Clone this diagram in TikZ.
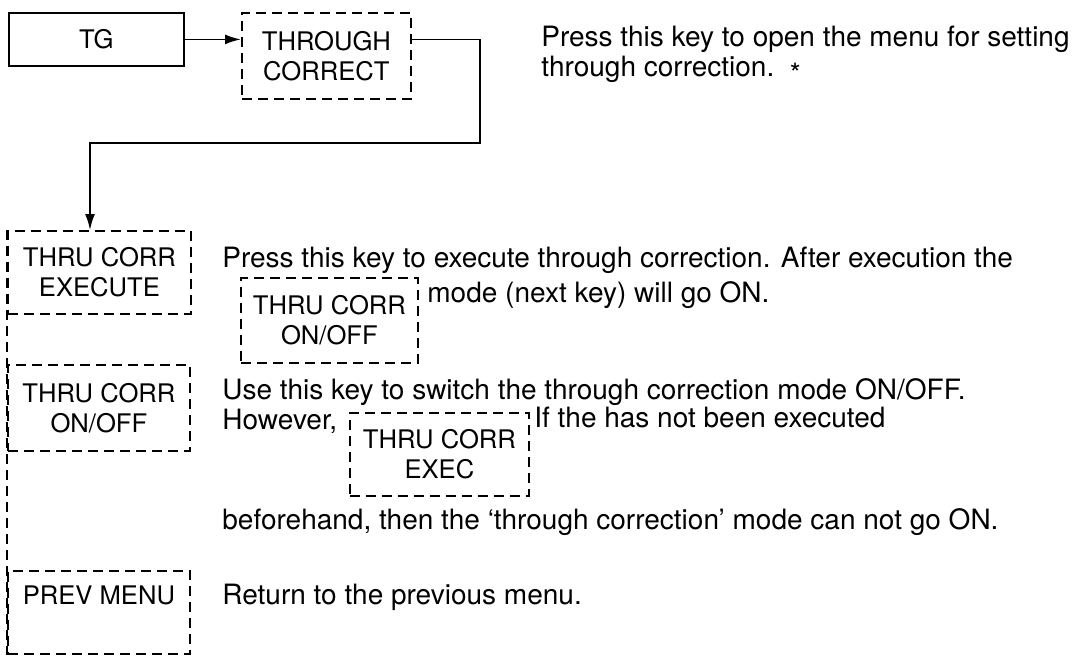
\documentclass[tikz,border=0pt]{standalone}
\usepackage{fontspec}
\setmainfont{TeX Gyre Heros}
\usepackage{tikz}
\usetikzlibrary{arrows.meta,calc,positioning}
\newcommand{\descfont}{\fontsize{14pt}{15pt}\selectfont}
\newcommand{\keyfont}{\fontsize{12.8pt}{15pt}\selectfont}
\tikzset{
  keybox/.style={draw, dash pattern=on 5pt off 3pt, line width=0.9pt, align=center,
    inner sep=0pt, font=\keyfont, anchor=north west},
  solidbox/.style={draw, line width=0.9pt, align=center, inner sep=0pt,
    font=\keyfont, anchor=north west},
  desc/.style={anchor=base west, inner sep=0pt, font=\descfont},
  link/.style={line width=0.9pt, -{Latex[length=8pt,width=5pt]}}
}

\begin{document}
\begin{tikzpicture}[x=0.5pt, y=-0.5pt]
            \useasboundingbox (0,0) rectangle (1090,655);
            % Draw the key boxes
            \node[solidbox, minimum width=87.5pt, minimum height=26.5pt] (tg) at (8,12) {TG};
            \node[keybox, minimum width=84.5pt, minimum height=43pt] (through) at (241,12) {THROUGH\\CORRECT};
            \node[keybox, minimum width=91.5pt, minimum height=41.5pt] (exec) at (7,230) {THRU CORR\\EXECUTE};
            \node[keybox, minimum width=91pt, minimum height=43pt] (onoff) at (7,364) {THRU CORR\\ON/OFF};
            \node[keybox, minimum width=91pt, text height=17pt, text depth=24.5pt] (prev) at (7,570) {PREV MENU};
            % Draw the left dashed rail
            \draw[line width=0.9pt, dash pattern=on 5pt off 3pt] (exec.north west) -- (prev.south west);
            % Define bends
            \coordinate (bendR) at (480,143);
            \coordinate (bendL) at (90,143);
            % Draw the connectors
            \draw[link] (tg.east) -- (tg.east -| through.west);
            \draw[link] (tg.east -| through.east) -| (bendR) -- (bendL) -- (bendL |- exec.north);
            % Label the keys
            \node[desc, anchor=north west, align=left, font=\fontsize{14pt}{14.8pt}\selectfont] (txtA) at (541,26)
              {Press this key to open the menu for setting\\through correction.\ \ \raisebox{-0.45ex}{*}};
            \node[desc] (txtB1) at (222,267) {Press this key to execute through correction. After execution the};
            \node[keybox, minimum width=88.5pt, minimum height=42.5pt] (onoffref) at (240,277) {THRU CORR\\ON/OFF};
            \node[desc] (txtB2) at (427,302) {mode (next key) will go ON.};
            \node[desc] (txtC1) at (222,399) {Use this key to switch the through correction mode ON/OFF.};
            \node[desc] (txtC2) at (222,429) {However,};
            \node[keybox, minimum width=89.5pt, minimum height=41.5pt] (execref) at (349,412) {THRU CORR\\EXEC};
            \node[desc] (txtC3) at (534,427) {If the has not been executed};
            \node[desc] (txtC4) at (222,529) {beforehand, then the `through correction' mode can not go ON.};
            \node[desc] (txtD1) at (222,604) {Return to the previous menu.};
          \end{tikzpicture}
\end{document}
